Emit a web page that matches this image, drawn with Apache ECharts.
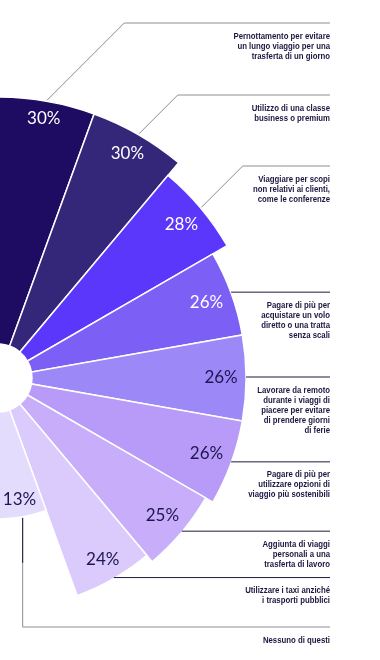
<!DOCTYPE html>
<html>
<head>
<meta charset="utf-8">
<script src="https://cdn.jsdelivr.net/npm/echarts@6.0.0/dist/echarts.min.js"></script>
<style>
  html, body { margin: 0; padding: 0; background: #ffffff; }
  #chart { width: 380px; height: 660px; }
</style>
</head>
<body>
<div id="chart"></div>
<script>
// ---- data ----
var categories = [
  "Pernottamento per evitare\nun lungo viaggio per una\ntrasferta di un giorno",
  "Utilizzo di una classe\nbusiness o premium",
  "Viaggiare per scopi\nnon relativi ai clienti,\ncome le conferenze",
  "Pagare di più per\nacquistare un volo\ndiretto o una tratta\nsenza scali",
  "Lavorare da remoto\ndurante i viaggi di\npiacere per evitare\ndi prendere giorni\ndi ferie",
  "Pagare di più per\nutilizzare opzioni di\nviaggio più sostenibili",
  "Aggiunta di viaggi\npersonali a una\ntrasferta di lavoro",
  "Utilizzare i taxi anziché\ni trasporti pubblici",
  "Nessuno di questi"
];
var values = [30, 30, 28, 26, 26, 26, 25, 24, 13];

// ---- styles / layout (not data) ----
var colors = ['#1e0c62', '#34277a', '#5b37fb', '#7c5ff5', '#9c88f7', '#b89bf8', '#c8aefa', '#dbcafc', '#e4dcfd'];
var valueLabelColors = ['#ffffff', '#ffffff', '#ffffff', '#ffffff', '#1e1650', '#1e1650', '#1e1650', '#1e1650', '#1e1650'];
var leaderKinds = ['diag', 'diag', 'diag', 'flat', 'flat', 'flat', 'flat', 'flat', 'down'];
var leaderTargetY = [23, 95, 166, null, null, null, null, null, 627];
var leaderColors = ['#8c8c96', '#8c8c96', '#8c8c96', '#1c1a3a', '#1c1a3a', '#1c1a3a', '#1c1a3a', '#1c1a3a', '#8c8c96'];
var textRightX = 330;

var chart = echarts.init(document.getElementById('chart'), null, { renderer: 'canvas' });

function renderItem(params, api) {
  var i = params.dataIndex;
  var cs = params.coordSys;
  var cx = cs.cx, cy = cs.cy;
  var end = api.coord([values[i], i]);
  var dx = end[0] - cx, dy = end[1] - cy;
  var len = Math.sqrt(dx * dx + dy * dy);
  var ux = dx / len, uy = dy / len;
  // value label inside the bar end
  var w = 34, h = 13, margin = 8;
  var d = Math.abs(ux) * w / 2 + Math.abs(uy) * h / 2 + margin;
  var lx = end[0] - ux * d, ly = end[1] - uy * d;
  var children = [];
  children.push({
    type: 'text', x: lx, y: ly, z2: 10,
    style: {
      text: values[i] + '%', fill: valueLabelColors[i],
      font: '17px Lato, "Open Sans", sans-serif',
      align: 'center', verticalAlign: 'middle'
    }
  });
  // leader line
  var pts, lineY, sx, sy;
  if (leaderKinds[i] === 'diag') {
    sx = end[0] + ux; sy = end[1] + uy;
    lineY = leaderTargetY[i];
    var rise = sy - lineY;
    pts = [[sx, sy], [sx + rise, lineY], [textRightX, lineY]];
  } else if (leaderKinds[i] === 'flat') {
    var shifted = api.coord([values[i], i + (i < 4 ? 0.06 : (i > 4 ? -0.06 : 0))]);
    sx = shifted[0]; sy = shifted[1] - 1;
    lineY = sy;
    pts = [[sx, sy], [textRightX, lineY]];
  } else {
    sx = end[0] + ux; sy = end[1] + uy;
    lineY = leaderTargetY[i];
    pts = [[sx, sy], [sx, lineY], [textRightX, lineY]];
    children.push({
      type: 'polyline', z2: 6,
      shape: { points: [[sx, sy], [sx, sy + 45]] },
      style: { stroke: '#1c1a3a', lineWidth: 1, fill: null }
    });
  }
  children.push({
    type: 'polyline', z2: 5,
    shape: { points: pts },
    style: { stroke: leaderColors[i], lineWidth: 1, fill: null }
  });
  children.push({
    type: 'text', x: textRightX, y: lineY + 8, z2: 10,
    scaleX: 0.82,
    style: {
      text: categories[i], fill: '#1b1640',
      font: 'bold 9.5px "Liberation Sans", Arial, sans-serif',
      lineHeight: 10, align: 'right', verticalAlign: 'top'
    }
  });
  return { type: 'group', children: children };
}

var option = {
  animation: false,
  backgroundColor: '#ffffff',
  polar: { center: [-2, 378], radius: [34, 281] },
  angleAxis: {
    type: 'category', data: categories,
    startAngle: 90, endAngle: -90, clockwise: true,
    show: false,
    axisLine: { show: false }, axisTick: { show: false }, axisLabel: { show: false }, splitLine: { show: false }
  },
  radiusAxis: {
    type: 'value', min: 0, max: 30, show: false,
    axisLine: { show: false }, axisTick: { show: false }, axisLabel: { show: false }, splitLine: { show: false }
  },
  series: [
    {
      type: 'bar', coordinateSystem: 'polar',
      barCategoryGap: '0%',
      data: values.map(function (v, i) {
        return { value: v, itemStyle: { color: colors[i] } };
      }),
      itemStyle: { borderColor: '#ffffff', borderWidth: 1.5 },
      silent: true, z: 2
    },
    {
      type: 'custom', coordinateSystem: 'polar',
      data: values.map(function (v, i) { return [v, i]; }),
      renderItem: renderItem,
      silent: true, z: 5
    }
  ]
};
chart.setOption(option);
</script>
</body>
</html>
